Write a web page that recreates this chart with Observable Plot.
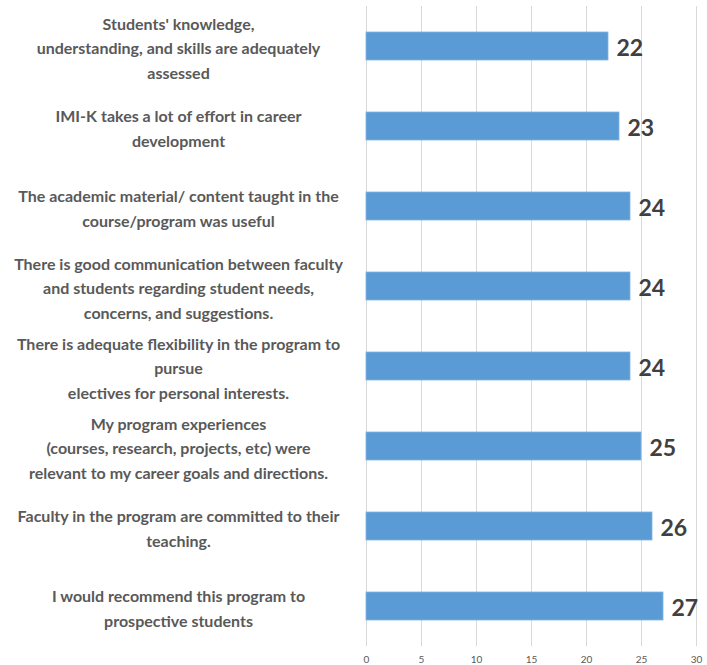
<!DOCTYPE html>
<html>
<head>
<meta charset="utf-8">
<script src="https://cdn.jsdelivr.net/npm/d3@7"></script>
<script src="https://cdn.jsdelivr.net/npm/@observablehq/plot@0.6"></script>
<style>
  html, body { margin: 0; padding: 0; background: #fff; }
  #chart svg { display: block; }
</style>
</head>
<body>
<div id="chart"></div>
<script>
const categories = [
  "Students' knowledge,\nunderstanding, and skills are adequately\nassessed",
  "IMI-K takes a lot of effort in career\ndevelopment",
  "The academic material/ content taught in the\ncourse/program was useful",
  "There is good communication between faculty\nand students regarding student needs,\nconcerns, and suggestions.",
  "There is adequate flexibility in the program to\npursue\nelectives for personal interests.",
  "My program experiences\n(courses, research, projects, etc) were\nrelevant to my career goals and directions.",
  "Faculty in the program are committed to their\nteaching.",
  "I would recommend this program to\nprospective students"
];
const values = [22, 23, 24, 24, 24, 25, 26, 27];
const xTicks = [0, 5, 10, 15, 20, 25, 30];

const data = categories.map((c, i) => ({label: c, value: values[i]}));

const chart = Plot.plot({
  width: 707,
  height: 665,
  marginLeft: 366,
  marginRight: 11,
  marginTop: 6,
  marginBottom: 19,
  style: {fontFamily: "Lato, 'Open Sans', sans-serif", background: "#fff"},
  x: {domain: [0, 30], ticks: xTicks, label: null},
  y: {domain: categories, padding: 0, label: null, axis: null},
  marks: [
    Plot.gridX(xTicks, {stroke: "#d9d9d9", strokeOpacity: 1, strokeWidth: 1}),
    Plot.axisX(xTicks, {tickSize: 0, tickPadding: 9, fontSize: 10, fill: "#595959", label: null}),
    Plot.barX(data, {x: "value", y: "label", insetTop: 26, insetBottom: 26, fill: "#5B9BD5", stroke: "#7fb2e0", strokeWidth: 0.8}),
    Plot.text(data, {x: "value", y: "label", text: d => String(d.value), textAnchor: "start", dx: 8, dy: 2, fontSize: 23, fontWeight: "bold", fill: "#404040"}),
    Plot.text(data, {y: "label", text: "label", frameAnchor: "left", textAnchor: "middle", dx: -188, fontSize: 16, fontWeight: "bold", fill: "#595959", lineHeight: 1.55})
  ]
});
document.getElementById("chart").append(chart);
</script>
</body>
</html>
